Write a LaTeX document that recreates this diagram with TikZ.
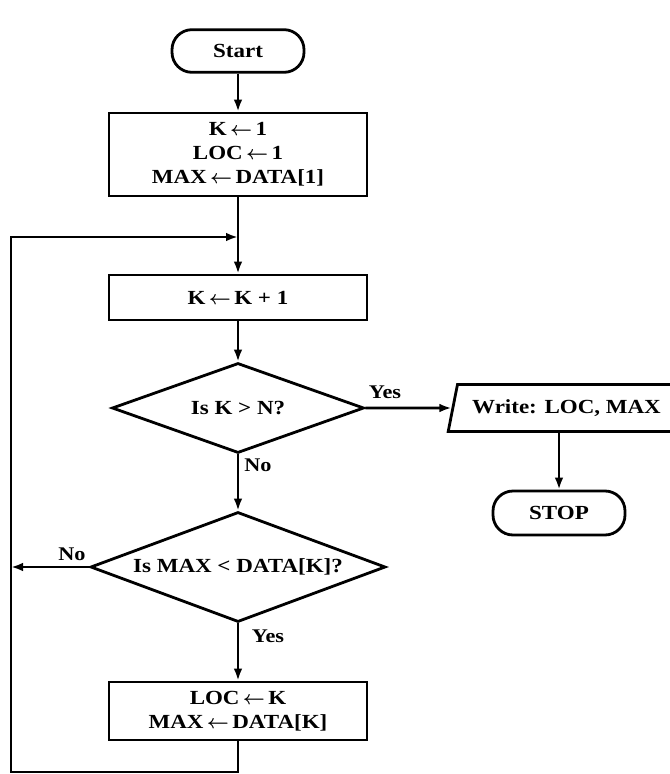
\documentclass[tikz,border=0pt]{standalone}
\usepackage{fontspec}
\setmainfont{Liberation Serif}[FakeStretch=1.15]
\usetikzlibrary{shapes.geometric,arrows.meta}
\newcommand{\la}{\,{\boldmath$\leftarrow$}\,}
\begin{document}
\begin{tikzpicture}[x=0.75pt,y=-0.75pt,
  every node/.style={font=\fontsize{15}{18}\selectfont\bfseries},
  line/.style={line width=2.1pt},
  arr/.style={line width=2.1pt,-{Latex[length=9pt,width=6.5pt]}},
  procbox/.style={draw,line width=2.1pt,minimum width=193.5pt,align=center,inner sep=0pt},
  term/.style={draw,line width=2.1pt,rounded corners=15pt,minimum width=99pt,minimum height=32pt},
  decision/.style={draw,diamond,line width=2.1pt,inner sep=0pt},
  iobox/.style={draw,trapezium,trapezium left angle=72,trapezium right angle=108,trapezium stretches=true,line width=2.1pt},
  lab/.style={font=\fontsize{14.5}{16}\selectfont\bfseries}]
\clip (0,0) rectangle (670,774);
\fill[white] (0,0) rectangle (670,774);

\node[term] (start) at (238,51) {Start};
\node[procbox,minimum height=62.25pt] (init) at (238,154.5) {K\la 1\\LOC\la 1\\MAX\la DATA[1]};
\node[procbox,minimum height=33.75pt] (inc) at (238,297.5) {K\la K + 1};
\node[decision,minimum width=189pt,minimum height=67.5pt,shape aspect=2.8] (d1) at (238,408) {Is K > N?};
\node[iobox,minimum width=177.75pt,minimum height=35.25pt] (write) at (566.5,408) {Write: LOC, MAX};
\node[term,minimum height=33pt] (stop) at (559,513) {STOP};
\node[decision,minimum width=221.25pt,minimum height=82.5pt,shape aspect=2.7] (d2) at (238,567) {Is MAX < DATA[K]?};
\node[procbox,minimum height=43.5pt] (upd) at (238,711) {LOC\la K\\MAX\la DATA[K]};

\node[lab] (yes1) at (385,392) {Yes};
\node[lab] (no1) at (258,465) {No};
\node[lab] (no2) at (72,554) {No};
\node[lab] (yes2) at (268,636) {Yes};

\coordinate (bl) at (11,772);
\coordinate (jn) at (238,237);

\draw[arr] (start) -- (init);
\draw[arr] (init) -- (inc);
\draw[arr] (inc) -- (d1);
\draw[arr] (d1) -- (write);
\draw[arr] (write.south -| stop.north) -- (stop.north);
\draw[arr] (d1) -- (d2);
\draw[arr] (d2.west) -- (d2.west -| bl);
\draw[arr] (d2) -- (upd);
\draw[arr] (upd.south) |- (bl) |- (jn);
\end{tikzpicture}
\end{document}
